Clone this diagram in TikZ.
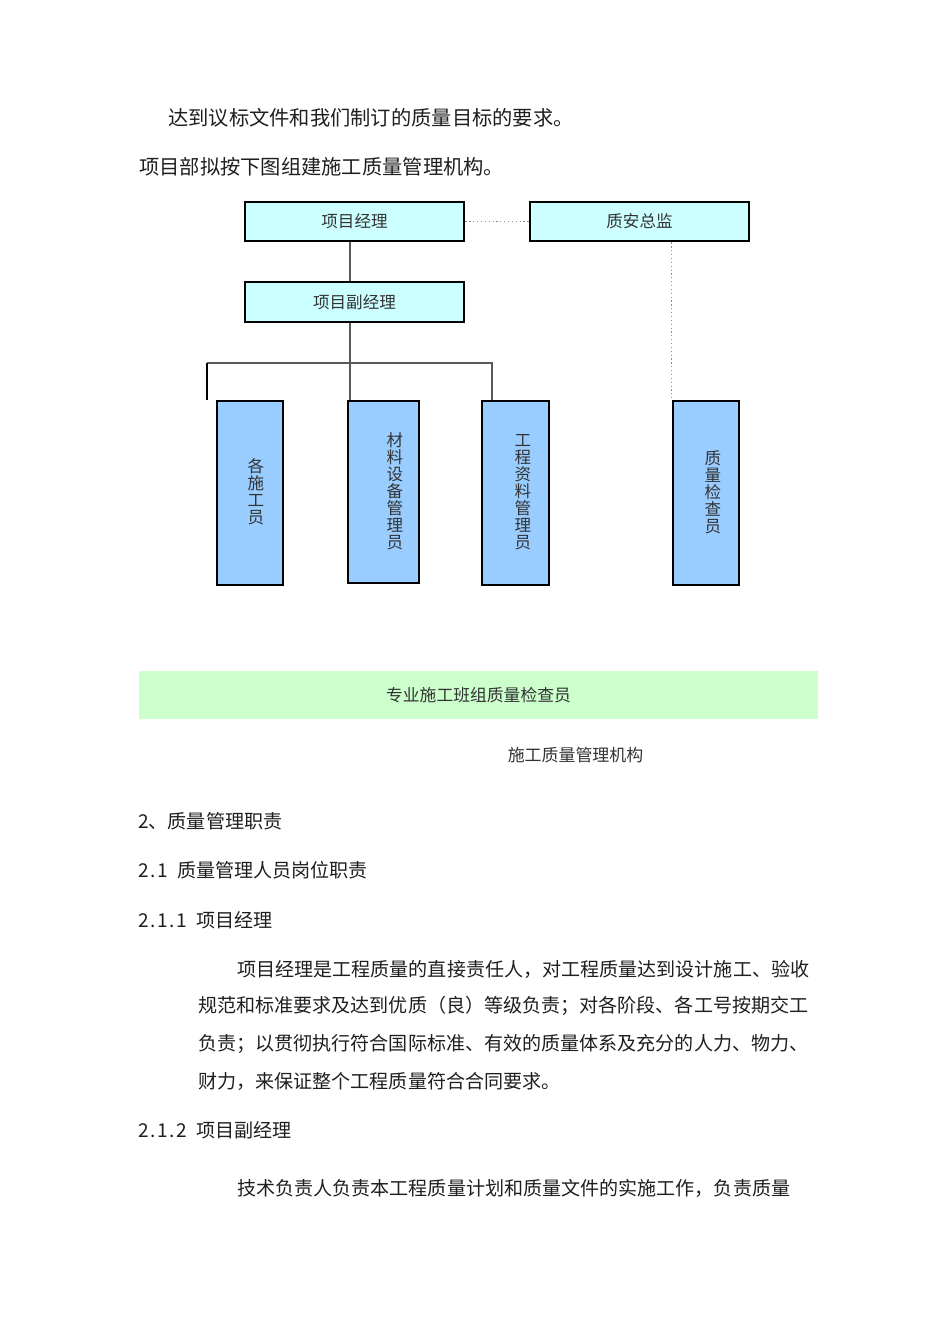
\documentclass[tikz,border=0pt]{standalone}
\usepackage{fontspec}
\newfontfamily\cjk{Noto Sans CJK SC}
\newcommand{\hd}[1]{\makebox[0.5em][c]{#1}}
\begin{document}
\begin{tikzpicture}[x=0.75pt,y=-0.75pt,
  cyanbox/.style={draw=black,line width=2.2pt,fill=cyanfill,minimum width=219*0.75pt,inner sep=0pt,font=\cjk\fontsize{12.4}{14}\selectfont,text=black!80},
  bluebox/.style={draw=black,line width=2.2pt,fill=bluefill,inner sep=0pt},
  vtext/.style={align=center,inner sep=0pt,font=\cjk\fontsize{12.4}{12.8}\selectfont,text=black!80},
  conn/.style={draw=black!65,line width=1.1pt},
  dots/.style={draw=black!45,line width=0.9pt,dotted},
  body/.style={anchor=west,inner sep=0pt,font=\cjk\fontsize{14.3}{16}\selectfont,text=black!88},
  bodybig/.style={anchor=west,inner sep=0pt,font=\cjk\fontsize{15.2}{16}\selectfont,text=black!88}
]
\definecolor{cyanfill}{HTML}{CCFFFF}
\definecolor{bluefill}{HTML}{99CCFF}
\definecolor{greenfill}{HTML}{CCFFCC}
\useasboundingbox[fill=white] (0,0) rectangle (950,1344);

% top text
\node[bodybig] (t1) at (168,118) {达到议标文件和我们制订的质量目标的要求。};
\node[bodybig] (t2) at (139,167) {项目部拟按下图组建施工质量管理机构。};

% boxes
\node[cyanbox,minimum height=39*0.75pt] (pm) at (354.5,221.5) {项目经理};
\node[cyanbox,minimum height=39*0.75pt] (zajc) at (639.5,221.5) {质安总监};
\node[cyanbox,minimum height=40*0.75pt] (fpm) at (354.5,302) {项目副经理};

\node[bluebox,minimum width=66*0.75pt,minimum height=184*0.75pt] (gs) at (250,493) {};
\node[bluebox,minimum width=71*0.75pt,minimum height=182*0.75pt] (cl) at (383.5,492) {};
\node[bluebox,minimum width=67*0.75pt,minimum height=184*0.75pt] (gc) at (515.5,493) {};
\node[bluebox,minimum width=66*0.75pt,minimum height=184*0.75pt] (zl) at (706,493) {};

\node[vtext] (gst) at (256,492) {各\\施\\工\\员};
\node[vtext] (clt) at (395,491) {材\\料\\设\\备\\管\\理\\员};
\node[vtext] (gct) at (523,492) {工\\程\\资\\料\\管\\理\\员};
\node[vtext] (zlt) at (713,492) {质\\量\\检\\查\\员};

% connectors
\coordinate (tr) at (350,363);
\coordinate (hl) at (207,363);
\coordinate (hr) at (492,363);
\draw[dots] (pm.east) -- (zajc.west);
\draw[conn] (tr |- pm.south) -- (tr |- fpm.north);
\draw[conn] (tr |- fpm.south) -- (tr |- cl.north);
\draw[conn] (hl) -- (hr) -- (hr |- gc.north);
\draw[draw=black,line width=1.6pt] (hl |- gs.north) -- (hl);

% dotted link to quality inspector
\draw[dots] (zl.north west |- zajc.south) -- (zl.north west);

% green band
\node[fill=greenfill,minimum width=679*0.75pt,minimum height=48*0.75pt,inner sep=0pt,font=\cjk\fontsize{12.6}{14}\selectfont,text=black!80] (band) at (478.5,695) {专业施工班组质量检查员};
\node[inner sep=0pt,font=\cjk\fontsize{12.7}{14}\selectfont,text=black!80] (cap) at (575.5,755) {施工质量管理机构};

% body
\node[body] (h1) at (139,821) {\hd{2}、质量管理职责};
\node[body] (h2) at (139,870) {\hd{2}\hd{.}\hd{1}\hd{~}质量管理人员岗位职责};
\node[body] (h3) at (139,920) {\hd{2}\hd{.}\hd{1}\hd{.}\hd{1}\hd{~}项目经理};
\node[body] (p1) at (237,969) {项目经理是工程质量的直接责任人，对工程质量达到设计施工、验收};
\node[body] (p2) at (198,1006) {规范和标准要求及达到优质（良）等级负责；对各阶段、各工号按期交工};
\node[body] (p3) at (198,1044) {负责；以贯彻执行符合国际标准、有效的质量体系及充分的人力、物力、};
\node[body] (p4) at (198,1081) {财力，来保证整个工程质量符合合同要求。};
\node[body] (h4) at (139,1130) {\hd{2}\hd{.}\hd{1}\hd{.}\hd{2}\hd{~}项目副经理};
\node[body] (p5) at (237,1188) {技术负责人负责本工程质量计划和质量文件的实施工作，负责质量};
\end{tikzpicture}
\end{document}
